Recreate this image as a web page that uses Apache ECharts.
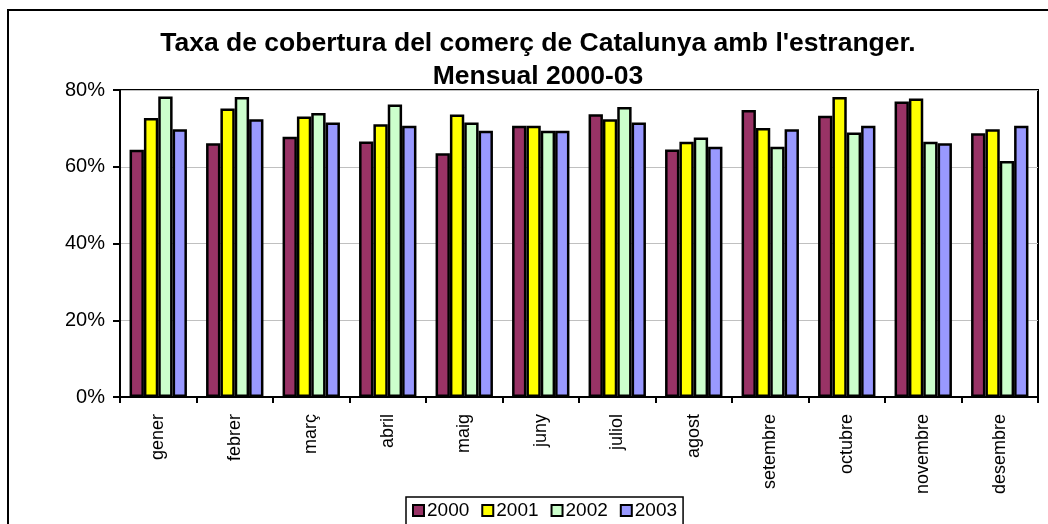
<!DOCTYPE html>
<html>
<head>
<meta charset="utf-8">
<script src="https://cdn.jsdelivr.net/npm/echarts@6/dist/echarts.min.js"></script>
<style>
  body { margin: 0; background: #fff; }
  #main { width: 1048px; height: 524px; }
</style>
</head>
<body>
<div id="main"></div>
<script type="text/javascript">

    // mesos
    var months = ["gener", "febrer", "març", "abril", "maig", "juny", "juliol", "agost", "setembre", "octubre", "novembre", "desembre"];
    var years = ["2000", "2001", "2002", "2003"];

    // taxa de cobertura (%)
    var y2000 = [64.4, 66.1, 67.8, 66.6, 63.5, 70.7, 73.7, 64.5, 74.8, 73.3, 77.0, 68.7];
    var y2001 = [72.7, 75.2, 73.1, 71.1, 73.6, 70.7, 72.4, 66.5, 70.1, 78.2, 77.8, 69.8];
    var y2002 = [78.3, 78.2, 74.0, 76.2, 71.5, 69.4, 75.6, 67.6, 65.2, 68.9, 66.5, 61.5];
    var y2003 = [69.8, 72.4, 71.5, 70.7, 69.4, 69.4, 71.5, 65.2, 69.8, 70.7, 66.1, 70.7];

    var yTicks = [0, 20, 40, 60, 80];

    var colors = ['#993366', '#FFFF00', '#CCFFCC', '#9999FF'];
    var allData = [y2000, y2001, y2002, y2003];

    var ec = echarts.init(document.getElementById('main'));

    var series = years.map(function (y, i) {
        return {
            name: y,
            type: 'bar',
            data: allData[i],
            barGap: '0%',
            barCategoryGap: '25%',
            itemStyle: { color: colors[i], borderColor: '#000', borderWidth: 2.5 }
        };
    });

    var option = {
        animation: false,
        textStyle: { fontFamily: 'Arial, Liberation Sans' },
        title: {
            text: "Taxa de cobertura del comerç de Catalunya amb l'estranger.\nMensual 2000-03",
            left: 533,
            textAlign: 'center',
            top: 22,
            textStyle: {
                fontSize: 26.5,
                fontWeight: 'bold',
                lineHeight: 33,
                color: '#000',
                fontFamily: 'Arial, Liberation Sans'
            }
        },
        legend: {
            data: years,
            left: 406,
            top: 497,
            orient: 'horizontal',
            icon: 'rect',
            itemWidth: 11,
            itemHeight: 11,
            itemGap: 12,
            padding: [4, 6, 12, 6],
            borderColor: '#000',
            borderWidth: 1.5,
            backgroundColor: '#fff',
            itemStyle: { borderColor: '#000', borderWidth: 2 },
            textStyle: { fontSize: 19, color: '#000', padding: [0, 0, 0, -2] }
        },
        grid: {
            left: 120,
            right: 10,
            top: 90,
            bottom: 127,
            show: true,
            borderColor: '#000',
            borderWidth: 2,
            containLabel: false
        },
        xAxis: {
            type: 'category',
            data: months,
            axisLine: { lineStyle: { color: '#000', width: 2 } },
            axisTick: { show: true, length: 6, lineStyle: { color: '#000', width: 2 } },
            axisLabel: { rotate: 90, fontSize: 18, color: '#000', margin: 17, interval: 0 }
        },
        yAxis: {
            type: 'value',
            min: yTicks[0],
            max: yTicks[yTicks.length - 1],
            interval: 20,
            axisLine: { show: true, lineStyle: { color: '#000', width: 2 } },
            axisTick: { show: true, length: 7, lineStyle: { color: '#000', width: 2 } },
            axisLabel: { fontSize: 20, color: '#000', margin: 15, formatter: '{value}%' },
            splitLine: { show: true, lineStyle: { color: '#c0c0c0', width: 1 } }
        },
        graphic: [{
            type: 'rect',
            z: -10,
            shape: { x: 8, y: 10, width: 1100, height: 600 },
            style: { fill: 'none', stroke: '#000', lineWidth: 2 }
        }],
        series: series
    };

    ec.setOption(option);
</script>
</body>
</html>
